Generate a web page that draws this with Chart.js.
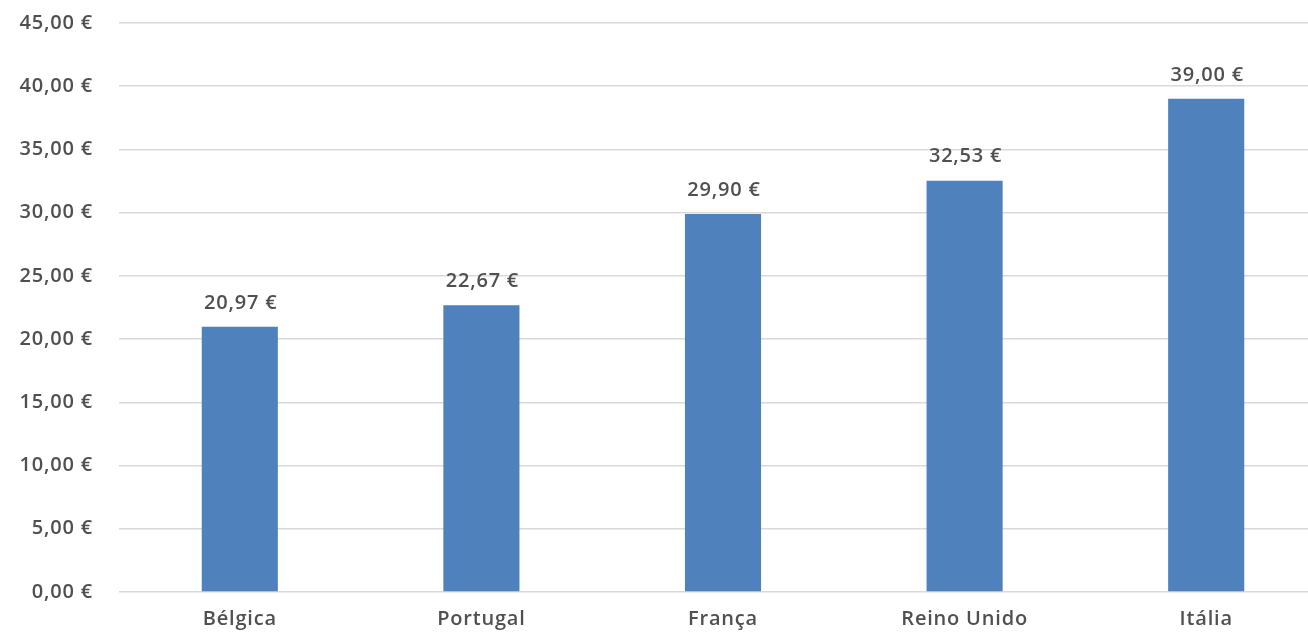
<!DOCTYPE html>
<html>
<head>
<meta charset="utf-8">
<title>Preço por país</title>
<script src="https://cdn.jsdelivr.net/npm/chart.js@4/dist/chart.umd.min.js"></script>
<style>
  html, body { margin: 0; padding: 0; background: #fff; }
  #wrap { width: 1308px; height: 634px; overflow: hidden; position: relative; }
  #chart { display: block; position: absolute; left: 0; top: -15px; }
</style>
</head>
<body>
<div id="wrap"><canvas id="chart" width="1328" height="649"></canvas></div>
<script>
// Countries and their price in euros
const countries = ['Bélgica', 'Portugal', 'França', 'Reino Unido', 'Itália'];
const prices = [20.97, 22.67, 29.90, 32.53, 39.00];
const yTickValues = [0, 5, 10, 15, 20, 25, 30, 35, 40, 45];

const TEXT_COLOR = '#505050';
const FONT_FAMILY = '"Open Sans", "DejaVu Sans", sans-serif';
const FONT_SIZE = 20;
const FONT_WEIGHT = '600';
const LETTER_SPACING = '0.8px';

const euro = v => v.toFixed(2).replace('.', ',') + ' €';

// Slightly widened lettering for all canvas text
const spacingPlugin = {
  id: 'letterSpacing',
  beforeLayout(chart) { chart.ctx.letterSpacing = LETTER_SPACING; },
  beforeDraw(chart) { chart.ctx.letterSpacing = LETTER_SPACING; }
};

// Value labels above each bar
const valueLabels = {
  id: 'valueLabels',
  afterDatasetsDraw(chart) {
    const ctx = chart.ctx;
    const meta = chart.getDatasetMeta(0);
    ctx.save();
    ctx.letterSpacing = LETTER_SPACING;
    ctx.font = FONT_WEIGHT + ' ' + FONT_SIZE + 'px ' + FONT_FAMILY;
    ctx.fillStyle = TEXT_COLOR;
    ctx.textAlign = 'center';
    ctx.textBaseline = 'middle';
    meta.data.forEach((bar, i) => {
      ctx.fillText(euro(prices[i]), bar.x + 1, bar.y - 24);
    });
    ctx.restore();
  }
};

const tickFont = { family: FONT_FAMILY, size: FONT_SIZE, weight: FONT_WEIGHT };

new Chart(document.getElementById('chart'), {
  type: 'bar',
  data: {
    labels: countries,
    datasets: [{
      data: prices,
      backgroundColor: '#4F81BD',
      borderWidth: 0,
      categoryPercentage: 1,
      barPercentage: 0.315
    }]
  },
  options: {
    responsive: false,
    animation: false,
    events: [],
    layout: { padding: { top: 7, right: 1, left: 0, bottom: 0 } },
    plugins: {
      legend: { display: false },
      tooltip: { enabled: false }
    },
    scales: {
      x: {
        grid: { display: false, drawTicks: false },
        border: { display: false },
        ticks: {
          color: TEXT_COLOR,
          font: tickFont,
          padding: 15,
          maxRotation: 0
        },
        afterFit(scale) { scale.height = 42; }
      },
      y: {
        min: 0,
        max: 45,
        afterBuildTicks(scale) { scale.ticks = yTickValues.map(v => ({ value: v })); },
        grid: { color: '#d9d9d9', lineWidth: 1.5, drawTicks: false },
        border: { display: false },
        ticks: {
          color: TEXT_COLOR,
          font: tickFont,
          padding: 26,
          callback: v => euro(v)
        },
        afterFit(scale) { scale.width = 119; }
      }
    }
  },
  plugins: [spacingPlugin, valueLabels]
});
</script>
</body>
</html>
